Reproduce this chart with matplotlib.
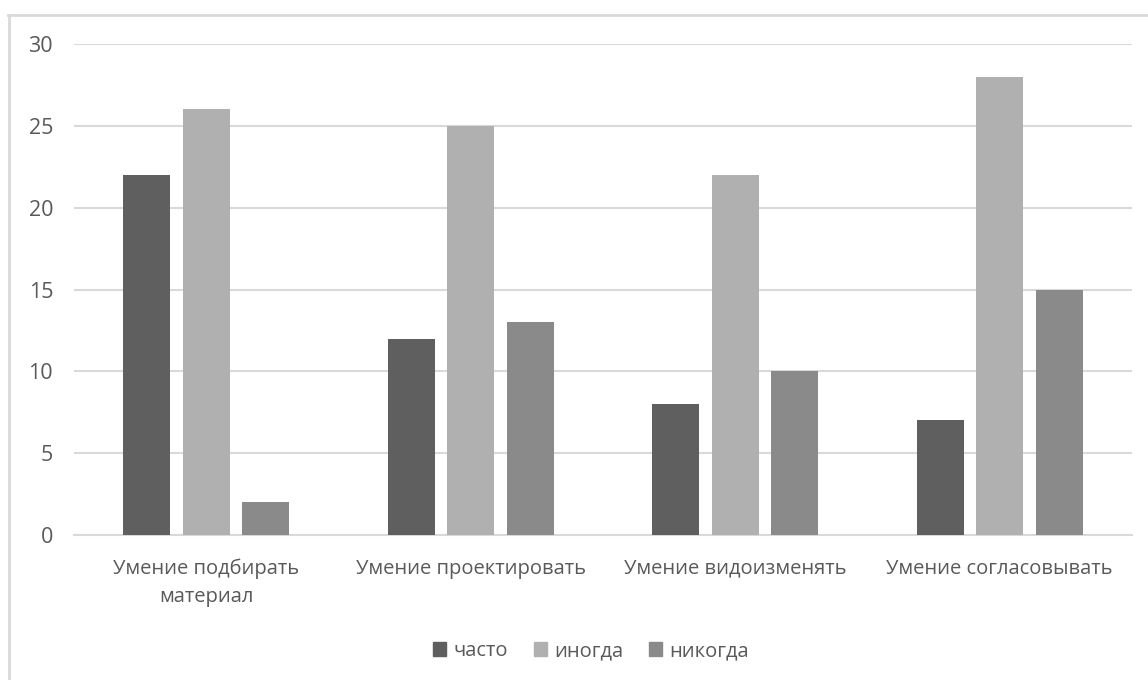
import numpy as np
import matplotlib
matplotlib.use("Agg")
import matplotlib.pyplot as plt
from matplotlib.lines import Line2D

plt.rcParams['font.family'] = ['Open Sans', 'DejaVu Sans']

categories = ["Умение подбирать\nматериал", "Умение проектировать",
              "Умение видоизменять", "Умение согласовывать"]
series_names = ["часто", "иногда", "никогда"]
often = [22, 12, 8, 7]
sometimes = [26, 25, 22, 28]
never = [2, 13, 10, 15]
yticks = [0, 5, 10, 15, 20, 25, 30]

colors = ["#5f5f5f", "#b0b0b0", "#8a8a8a"]
text_color = "#595959"
grid_color = "#d9d9d9"

fig = plt.figure(figsize=(11.48, 6.8), dpi=100)
ax = fig.add_axes([74 / 1148, 1 - 535 / 680, (1132 - 74) / 1148, (535 - 44) / 680])

x = np.arange(len(categories))
width = 0.178
step = 0.225
for i, (vals, name) in enumerate(zip([often, sometimes, never], series_names)):
    ax.bar(x + (i - 1) * step, vals, width, color=colors[i], label=name, zorder=3)

ax.set_xlim(-0.5, len(categories) - 0.5)
ax.set_ylim(0, 30)
ax.set_yticks(yticks)
ax.set_xticks(x)
ax.set_xticklabels(categories, fontsize=14.5, linespacing=1.55)
ax.yaxis.grid(True, color=grid_color, linewidth=1.5, zorder=0)
ax.set_axisbelow(True)
for s in ["top", "right", "left"]:
    ax.spines[s].set_visible(False)
ax.spines["bottom"].set_color(grid_color)
ax.spines["bottom"].set_linewidth(1.5)
ax.tick_params(axis="both", length=0, colors=text_color)
ax.tick_params(axis="y", labelsize=15.5, pad=15)
ax.tick_params(axis="x", pad=17)

handles = [plt.Rectangle((0, 0), 1, 1, color=c) for c in colors]
leg = fig.legend(handles, series_names, loc="center", bbox_to_anchor=(591 / 1148, 1 - 651 / 680),
                 ncol=3, frameon=False, fontsize=14.5, handlelength=0.65, handleheight=0.65,
                 handletextpad=0.35, columnspacing=1.3)
for t in leg.get_texts():
    t.set_color(text_color)

# outer chart border (top and left edges)
fig.add_artist(Line2D([8 / 1148, 1], [1 - 15 / 680, 1 - 15 / 680], transform=fig.transFigure,
                      color=grid_color, linewidth=2))
fig.add_artist(Line2D([9 / 1148, 9 / 1148], [0, 1 - 15 / 680], transform=fig.transFigure,
                      color=grid_color, linewidth=2))

fig.savefig("out.png", dpi=100, facecolor="white")
